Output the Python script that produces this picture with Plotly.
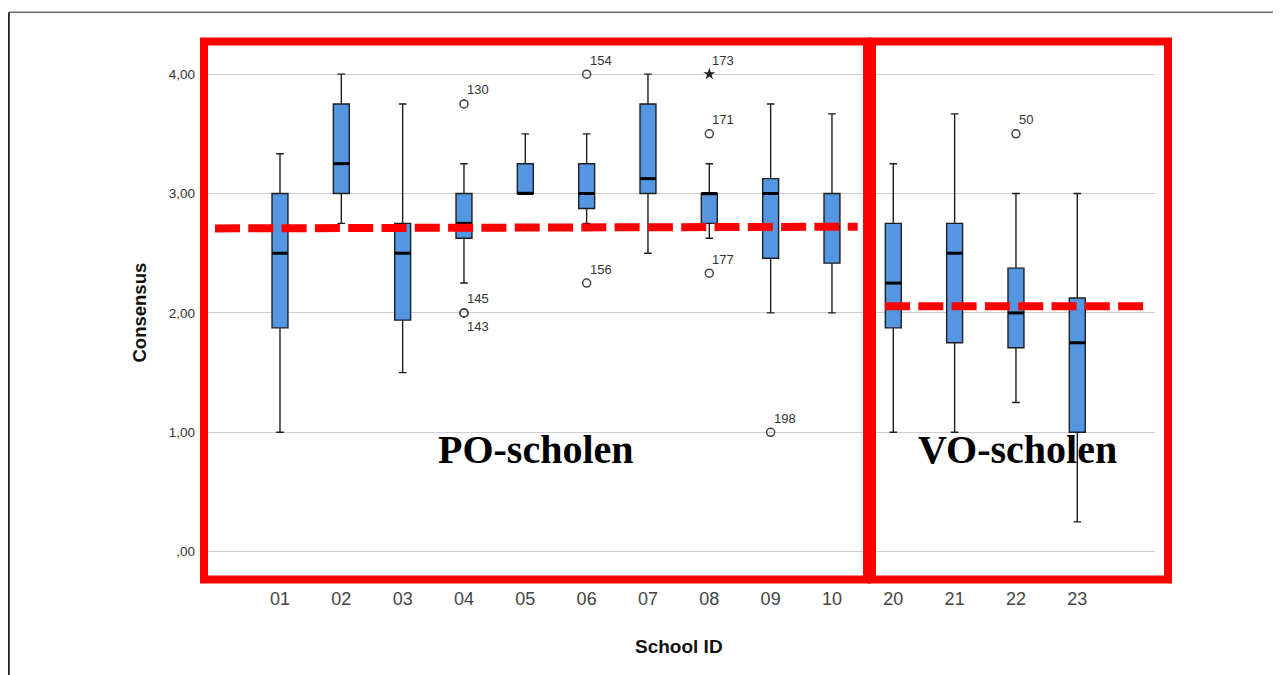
import plotly.graph_objects as go

# ---------------- data ----------------
schools = ["01", "02", "03", "04", "05", "06", "07", "08", "09", "10", "20", "21", "22", "23"]
lower_whisker = [1.00, 2.75, 1.50, 2.25, 3.00, 2.75, 2.50, 2.625, 2.00, 2.00, 1.00, 1.00, 1.25, 0.25]
q1_values     = [1.875, 3.00, 1.94, 2.625, 3.00, 2.875, 3.00, 2.75, 2.458, 2.417, 1.875, 1.75, 1.708, 1.00]
median_values = [2.50, 3.25, 2.50, 2.75, 3.00, 3.00, 3.125, 3.00, 3.00, 2.72, 2.25, 2.50, 2.00, 1.75]
q3_values     = [3.00, 3.75, 2.75, 3.00, 3.25, 3.25, 3.75, 3.00, 3.125, 3.00, 2.75, 2.75, 2.375, 2.125]
upper_whisker = [3.333, 4.00, 3.75, 3.25, 3.50, 3.50, 4.00, 3.25, 3.75, 3.667, 3.25, 3.667, 3.00, 3.00]

outlier_school = ["04", "04", "04", "06", "06", "08", "08", "08", "09", "22"]
outlier_value  = [3.75, 2.00, 2.00, 4.00, 2.25, 4.00, 3.50, 2.333, 1.00, 3.50]
outlier_id     = ["130", "145", "143", "154", "156", "173", "171", "177", "198", "50"]
outlier_extreme = [False, False, False, False, False, True, False, False, False, False]
outlier_label_below = [False, False, True, False, False, False, False, False, False, False]

po_mean = [2.708, 2.722]   # dashed group-mean line (left end, right end)
vo_mean = [2.055, 2.055]

y_tick_values = [0, 1, 2, 3, 4]
y_tick_labels = [",00", "1,00", "2,00", "3,00", "4,00"]

# ---------------- figure ----------------
pos = list(range(len(schools)))
BOX_W = 0.26

fig = go.Figure()
fig.add_trace(go.Box(
    x=pos, q1=q1_values, median=median_values, q3=q3_values,
    lowerfence=lower_whisker, upperfence=upper_whisker,
    width=BOX_W, whiskerwidth=0.48,
    fillcolor="#5496e2", line=dict(color="#1e1e1e", width=1.4),
    boxpoints=False, hoverinfo="skip", showlegend=False,
))

# thick median bars
mx, my = [], []
for p, m in zip(pos, median_values):
    mx += [p - BOX_W / 2, p + BOX_W / 2, None]
    my += [m, m, None]
fig.add_trace(go.Scatter(x=mx, y=my, mode="lines", line=dict(color="black", width=3),
                         hoverinfo="skip", showlegend=False))

# outliers
ox = [schools.index(s) for s in outlier_school]
circ_x = [x for x, e in zip(ox, outlier_extreme) if not e]
circ_y = [v for v, e in zip(outlier_value, outlier_extreme) if not e]
star_x = [x for x, e in zip(ox, outlier_extreme) if e]
star_y = [v for v, e in zip(outlier_value, outlier_extreme) if e]
fig.add_trace(go.Scatter(x=circ_x, y=circ_y, mode="markers",
                         marker=dict(symbol="circle-open", size=8, color="#444",
                                     line=dict(width=1.5, color="#444")),
                         hoverinfo="skip", showlegend=False))
fig.add_trace(go.Scatter(x=star_x, y=star_y, mode="markers",
                         marker=dict(symbol="star", size=9, color="#222"),
                         hoverinfo="skip", showlegend=False))

annotations = []
for x, v, lab, below in zip(ox, outlier_value, outlier_id, outlier_label_below):
    annotations.append(dict(x=x, y=v, xref="x", yref="y", text=lab, showarrow=False,
                            xanchor="left", yanchor="middle", xshift=1,
                            yshift=-14 if below else 14,
                            font=dict(family="Liberation Sans", size=13, color="#333")))

# axis titles
annotations.append(dict(x=-0.0673, y=0.5, xref="paper", yref="paper", text="<b>Consensus</b>",
                        textangle=-90, showarrow=False, xanchor="center", yanchor="middle",
                        font=dict(family="Liberation Sans", size=18.5, color="#111")))
annotations.append(dict(x=0.4992, y=-0.1252, xref="paper", yref="paper", text="<b>School ID</b>",
                        showarrow=False, xanchor="center", yanchor="middle",
                        font=dict(family="Liberation Sans", size=19, color="#111")))
# group labels
annotations.append(dict(x=0.3496, y=0.243, xref="paper", yref="paper", text="<b>PO-scholen</b>",
                        showarrow=False, xanchor="center", yanchor="middle",
                        font=dict(family="Liberation Serif", size=40, color="black")))
annotations.append(dict(x=0.8559, y=0.243, xref="paper", yref="paper", text="<b>VO-scholen</b>",
                        showarrow=False, xanchor="center", yanchor="middle",
                        font=dict(family="Liberation Serif", size=40, color="black")))

RED = "#ff0000"
# the page body adds an 8px offset, so the figure is 8px smaller and margins shifted
FIG_W, FIG_H = 1273, 667
ML, MT, MR, MB = 196, 37, 126, 95
PW = FIG_W - ML - MR
PH = FIG_H - MT - MB
frame_x = (0.9 - ML) / PW
frame_y = 1 + (MT - 4.3) / PH

shapes = [
    # outer frame (top and left edges)
    dict(type="line", xref="paper", yref="paper", x0=frame_x, x1=1.2, y0=frame_y, y1=frame_y,
         line=dict(color="#6a6a6a", width=1.6)),
    dict(type="line", xref="paper", yref="paper", x0=frame_x, x1=frame_x, y0=frame_y, y1=-0.2,
         line=dict(color="#222", width=1.8)),
    # red group frames
    dict(type="rect", xref="paper", yref="paper", x0=0.0, x1=0.6972, y0=0.0009, y1=1.0065,
         line=dict(color=RED, width=8)),
    dict(type="rect", xref="paper", yref="paper", x0=0.7024, x1=1.0137, y0=0.0009, y1=1.0065,
         line=dict(color=RED, width=8)),
    # group mean dashed lines
    dict(type="line", xref="paper", yref="y", x0=0.01157, x1=0.6874, y0=po_mean[0], y1=po_mean[1],
         line=dict(color=RED, width=8, dash="25px,8.3px")),
    dict(type="line", xref="paper", yref="y", x0=0.7161, x1=0.9895, y0=vo_mean[0], y1=vo_mean[1],
         line=dict(color=RED, width=8, dash="25px,8.3px")),
]

fig.update_layout(
    width=FIG_W, height=FIG_H,
    margin=dict(l=ML, r=MR, t=MT, b=MB),
    paper_bgcolor="white", plot_bgcolor="white",
    showlegend=False,
    annotations=annotations, shapes=shapes,
    xaxis=dict(range=[-1.239, 14.267], tickmode="array", tickvals=pos, ticktext=schools,
               showgrid=False, zeroline=False, showline=False, ticks="",
               ticklabelstandoff=6,
               tickfont=dict(family="Liberation Sans", size=18, color="#444")),
    yaxis=dict(range=[-0.237, 4.244], tickmode="array", tickvals=y_tick_values,
               ticktext=y_tick_labels, showgrid=True, gridcolor="#cfcfcf", gridwidth=1.3,
               zeroline=False, showline=False, ticks="", ticklabelstandoff=8,
               tickfont=dict(family="Liberation Sans", size=13.5, color="#333")),
)

fig.write_html("out.html")
